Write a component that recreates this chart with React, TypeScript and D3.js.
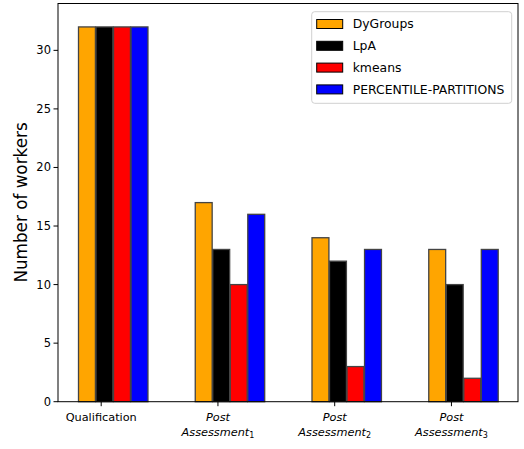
import React from "react";
import * as d3 from "d3";

const categories = ["Qualification", "Post Assessment1", "Post Assessment2", "Post Assessment3"];
const seriesNames = ["DyGroups", "LpA", "kmeans", "PERCENTILE-PARTITIONS"];
const seriesColors = ["#FFA500", "#000000", "#FF0000", "#0000FF"];
const dyGroups = [32, 17, 14, 13];
const lpa = [32, 13, 12, 10];
const kmeans = [32, 10, 3, 2];
const percentile = [32, 16, 13, 13];
const yTicks = [0, 5, 10, 15, 20, 25, 30];

const W = 524;
const H = 449;
const left = 58;
const right = 518;
const top = 3.5;
const bottom = 401.7;
const barW = 0.15;
const firstOffset = -0.197;
const font = "DejaVu Sans, sans-serif";

export default function App() {
  const series = [dyGroups, lpa, kmeans, percentile];
  const x = d3.scaleLinear().domain([-0.37, 3.57]).range([left, right]);
  const y = d3.scaleLinear().domain([0, 34]).range([bottom, top]);
  const unit = x(1) - x(0);

  return (
    <svg width={W} height={H} style={{ position: "absolute", left: 0, top: 0, background: "#fff" }}>
      <rect x={0} y={0} width={W} height={H} fill="#fff" />
      {series.map((vals, k) =>
        vals.map((v, i) => (
          <rect
            key={`${k}-${i}`}
            x={x(i + firstOffset + barW * k) + 0.3}
            y={y(v)}
            width={barW * unit - 0.6}
            height={y(0) - y(v)}
            fill={seriesColors[k]}
            stroke="#444"
            strokeWidth={1.3}
          />
        ))
      )}
      {/* frame */}
      <rect x={left} y={top} width={right - left} height={bottom - top} fill="none" stroke="#000" strokeWidth={1} />
      {/* y ticks */}
      {yTicks.map((t) => (
        <g key={t}>
          <line x1={left - 4.5} x2={left} y1={y(t)} y2={y(t)} stroke="#000" strokeWidth={1} />
          <text x={left - 7} y={y(t)} dy="0.35em" textAnchor="end" fontFamily={font} fontSize={11.5} fill="#000">
            {t}
          </text>
        </g>
      ))}
      {/* x ticks */}
      {categories.map((c, i) => {
        const cx = x(i);
        return (
          <g key={c}>
            <line x1={cx} x2={cx} y1={bottom} y2={bottom + 4.5} stroke="#000" strokeWidth={1} />
            {i === 0 ? (
              <text x={cx} y={417} dy="0.35em" textAnchor="middle" fontFamily={font} fontSize={11.3} fill="#000">
                {c}
              </text>
            ) : (
              <g>
                <text x={cx} y={417} dy="0.35em" textAnchor="middle" fontFamily={font} fontSize={11.3} fontStyle="italic" fill="#000">
                  {c.split(" ")[0]}
                </text>
                <text x={cx} y={432} dy="0.35em" textAnchor="middle" fontFamily={font} fontSize={11.3} fontStyle="italic" fill="#000">
                  {c.split(" ")[1].slice(0, -1)}
                  <tspan fontSize={8} fontStyle="normal" dy="2.5">{c.slice(-1)}</tspan>
                </text>
              </g>
            )}
          </g>
        );
      })}
      {/* y label */}
      <text
        transform={`translate(21, 202.5) rotate(-90)`}
        textAnchor="middle"
        dy="0.35em"
        fontFamily={font}
        fontSize={16.8}
        fill="#000"
      >
        Number of workers
      </text>
      {/* legend */}
      <g>
        <rect x={311.7} y={11.7} width={200} height={91.6} rx={3} fill="#fff" fillOpacity={0.8} stroke="#d0d0d0" strokeWidth={1} />
        {seriesNames.map((n, k) => {
          const cy = 24 + k * 21.8;
          return (
            <g key={n}>
              <rect x={316.7} y={cy - 4.5} width={26} height={9} fill={seriesColors[k]} stroke="#000" strokeWidth={1} />
              <text x={352.7} y={cy} dy="0.35em" fontFamily={font} fontSize={12.4} fill="#000">
                {n}
              </text>
            </g>
          );
        })}
      </g>
    </svg>
  );
}
